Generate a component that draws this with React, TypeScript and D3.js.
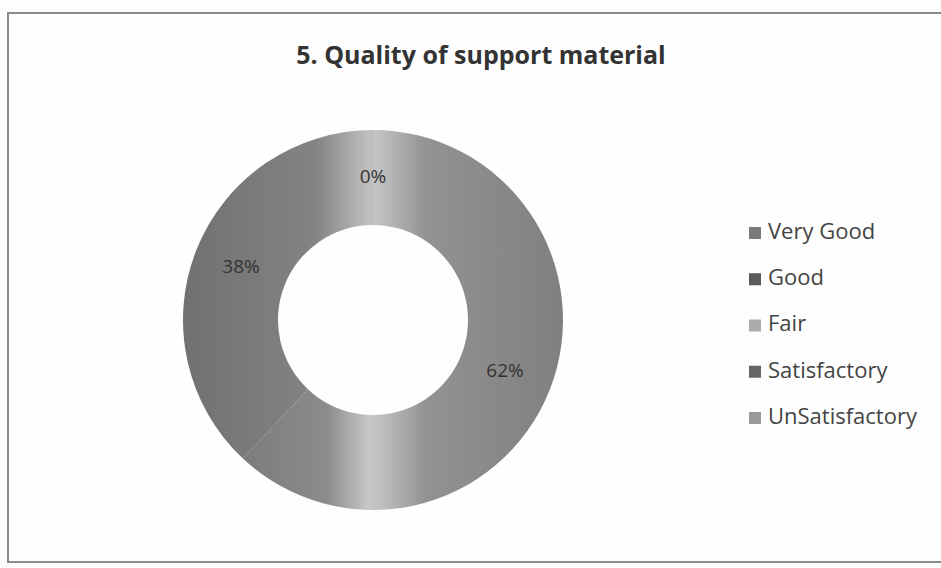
import React from "react";
import * as d3 from "d3";

const categories = ["Very Good", "Good", "Fair", "Satisfactory", "UnSatisfactory"];
const values = [62, 38, 0, 0, 0];
const labels = ["62%", "38%", "0%", "0%", "0%"];
const legendColors = ["#7a7a7a", "#5a5a5a", "#ababab", "#666666", "#999999"];
const title = "5. Quality of support material";

const W = 941, H = 568;
const cx = 373, cy = 320, rOuter = 190, rInner = 95;

export default function App() {
  const pie = d3.pie<number>().sort(null).value((d) => d);
  const arcs = pie(values);
  const arcGen = d3.arc<d3.PieArcDatum<number>>().innerRadius(rInner).outerRadius(rOuter);
  const labelArc = d3.arc<d3.PieArcDatum<number>>().innerRadius(142).outerRadius(142);
  const legendY = d3.scalePoint<string>().domain(categories).range([233, 418]);
  let zeroShown = false;
  return (
    <svg width={W} height={H} style={{ position: "absolute", left: 0, top: 0, background: "#fdfdfd" }}>
      <defs>
        <linearGradient id="g0" gradientUnits="userSpaceOnUse" x1={-rOuter} x2={rOuter} y1={0} y2={0}>
          <stop offset="0" stopColor="#707070" />
          <stop offset="0.38" stopColor="#8c8c8c" />
          <stop offset="0.49" stopColor="#c8c8c8" />
          <stop offset="0.53" stopColor="#bcbcbc" />
          <stop offset="0.64" stopColor="#929292" />
          <stop offset="1" stopColor="#808080" />
        </linearGradient>
        <linearGradient id="g1" gradientUnits="userSpaceOnUse" x1={-rOuter} x2={rOuter} y1={0} y2={0}>
          <stop offset="0" stopColor="#717171" />
          <stop offset="0.35" stopColor="#838383" />
          <stop offset="0.49" stopColor="#c0c0c0" />
          <stop offset="0.53" stopColor="#b5b5b5" />
          <stop offset="1" stopColor="#7c7c7c" />
        </linearGradient>
      </defs>
      <rect x={8} y={13} width={W + 10} height={549} fill="#fefefe" stroke="#8a8a8a" strokeWidth={2} />
      <text x={481} y={64} textAnchor="middle" fontFamily="Open Sans, sans-serif" fontWeight="bold" fontSize={25} fill="#333">
        {title}
      </text>
      <g transform={`translate(${cx},${cy})`}>
        {arcs.map((a, i) => (
          <path key={categories[i]} d={arcGen(a) || ""} fill={`url(#g${i === 0 ? 0 : 1})`} />
        ))}
        {arcs.map((a, i) => {
          if (a.value === 0) {
            if (zeroShown) return null;
            zeroShown = true;
          }
          const [x, y] = labelArc.centroid(a);
          return (
            <text key={"l" + i} x={x} y={y} textAnchor="middle" dominantBaseline="middle" fontFamily="Open Sans, sans-serif" fontSize={19} fill="#333">
              {labels[i]}
            </text>
          );
        })}
      </g>
      {categories.map((c, i) => (
        <g key={c} transform={`translate(749,${legendY(c)})`}>
          <rect x={0} y={-6} width={12} height={12} fill={legendColors[i]} />
          <text x={19} y={0} dominantBaseline="middle" fontFamily="Open Sans, sans-serif" fontSize={22} fill="#444">
            {c}
          </text>
        </g>
      ))}
    </svg>
  );
}
